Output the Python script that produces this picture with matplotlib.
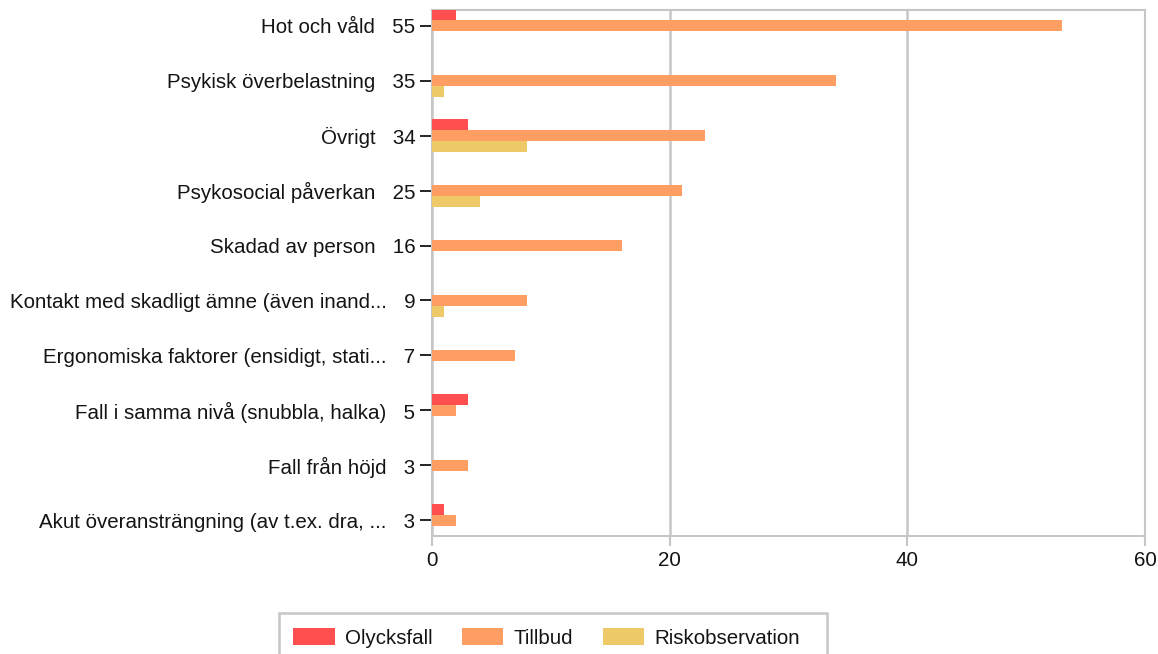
import matplotlib
matplotlib.use("Agg")
import matplotlib.pyplot as plt
from matplotlib.patches import Patch, Rectangle

categories = [
    "Hot och våld",
    "Psykisk överbelastning",
    "Övrigt",
    "Psykosocial påverkan",
    "Skadad av person",
    "Kontakt med skadligt ämne (även inand...",
    "Ergonomiska faktorer (ensidigt, stati...",
    "Fall i samma nivå (snubbla, halka)",
    "Fall från höjd",
    "Akut överansträngning (av t.ex. dra, ...",
]
olycksfall = [2, 0, 3, 0, 0, 0, 0, 3, 0, 1]
tillbud = [53, 34, 23, 21, 16, 8, 7, 2, 3, 2]
riskobservation = [0, 1, 8, 4, 0, 1, 0, 0, 0, 0]
series_names = ["Olycksfall", "Tillbud", "Riskobservation"]
colors = ["#FF4F4F", "#FF9E62", "#EDCA67"]

totals = [o + t + r for o, t, r in zip(olycksfall, tillbud, riskobservation)]

plt.rcParams["font.family"] = ["Liberation Sans", "DejaVu Sans"]
text_color = "#141414"
grey = "#c6c6c6"
fs = 14.8

fig = plt.figure(figsize=(11.58, 6.54), dpi=100)
ax = fig.add_axes([432 / 1158, 1 - 536 / 654, (1145 - 432) / 1158, (536 - 10) / 654])

pos = list(range(len(categories)))
h = 0.2
for offset, vals, col in zip([-h, 0, h], [olycksfall, tillbud, riskobservation], colors):
    ys = [p + offset for p in pos]
    ax.barh(ys, vals, height=h, color=col, linewidth=0, zorder=3)

ax.set_xlim(0, 60)
ax.set_ylim(len(categories) - 1 + 0.29, -0.29)
ax.set_xticks([0, 20, 40, 60])
ax.set_yticks(pos)
ax.set_yticklabels([f"{c}   {t}" for c, t in zip(categories, totals)])

ax.grid(axis="x", color=grey, linewidth=1.8, zorder=0)
for s in ax.spines.values():
    s.set_color(grey)
    s.set_linewidth(1.5)

ax.tick_params(axis="y", length=9, width=1.3, color=text_color, pad=3,
               labelsize=fs, labelcolor=text_color)
ax.tick_params(axis="x", length=7, width=1.5, color=grey, pad=4,
               labelsize=fs, labelcolor=text_color)

# legend entries, frame drawn separately (box is wider on the right in the original)
handles = [Patch(facecolor=c, linewidth=0) for c in colors]
leg = fig.legend(handles, series_names, loc="upper left",
                 bbox_to_anchor=(278 / 1158, 1 - 613 / 654),
                 ncol=3, fontsize=fs, frameon=False,
                 handlelength=2.0, handleheight=0.85, columnspacing=1.45,
                 handletextpad=0.5, borderpad=0.75, borderaxespad=0)
for t in leg.get_texts():
    t.set_color(text_color)

fig.patches.append(Rectangle((279 / 1158, -0.05), (827 - 279) / 1158, 0.05 + 41 / 654,
                             transform=fig.transFigure, facecolor="none",
                             edgecolor=grey, linewidth=1.8))

fig.savefig("out.png", dpi=100)
